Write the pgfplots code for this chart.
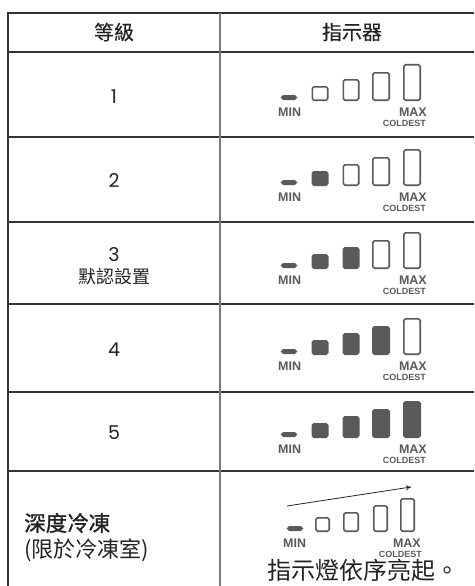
\documentclass[border=0pt]{standalone}
\usepackage{pgfplots}
\pgfplotsset{compat=1.18}
\usepackage{pgfplotstable}
\usetikzlibrary{arrows.meta}
\usepackage{fontspec}
\setmainfont{Poppins}
\newfontfamily\cjk{Noto Sans CJK TC}
\newfontfamily\cjkm{Noto Sans CJK TC}[FakeBold=0.3]
\newfontfamily\cjkb{Noto Sans CJK TC}[FakeBold=1.4]
\newfontfamily\labfont{Liberation Sans}
\definecolor{segc}{HTML}{5A5A5A}
\definecolor{txt}{HTML}{222222}
\definecolor{rule}{HTML}{333333}
\definecolor{vrule}{HTML}{7A7A7A}

% indicator segments: x centre, y bottom (px from top), height, width, filled
\pgfplotstableread{
x y h w f
289 100 5 16 1
320 101 15 17 0
351 101 22 17 0
381 101 29 18 0
412 101 37 18 0
289 185 5 16 1
320 186 15 17 1
351 186 22 17 0
381 186 29 18 0
412 186 37 18 0
289 268 5 16 1
320 269 15 17 1
351 269 22 17 1
381 269 29 18 0
412 269 37 18 0
289 354 5 16 1
320 355 15 17 1
351 355 22 17 1
381 355 29 18 1
412 355 37 18 0
289 437 5 16 1
320 438 15 17 1
351 438 22 17 1
381 438 29 18 1
412 438 37 18 1
295 531 5 16 1
322.5 532 15 15 0
351 532 20 16 0
380.5 532 27 15 0
407.5 532 34 15 0
}\segs

\newcommand{\indlabels}[4]{% bottom, MIN left x, MAX right x, COLDEST right x
  \node[anchor=base west, inner sep=0pt, text=segc, font=\labfont\bfseries\fontsize{12.5}{13}\selectfont] at (axis cs:#2,#1+15) {MIN};
  \node[anchor=base east, inner sep=0pt, text=segc, font=\labfont\bfseries\fontsize{12.5}{13}\selectfont] at (axis cs:#3,#1+15) {MAX};
  \node[anchor=base east, inner sep=0pt, text=segc, font=\labfont\bfseries\fontsize{9}{10}\selectfont] at (axis cs:#4,#1+25) {COLDEST};
}

\begin{document}
\begin{tikzpicture}
\begin{axis}[
  scale only axis, width=474pt, height=586pt,
  xmin=0, xmax=474, ymin=0, ymax=586, y dir=reverse,
  hide axis, clip=true,
]
\addplot[draw=none] coordinates {(0,0) (474,586)};
% table rules
\addplot[line width=2pt, color=rule] coordinates {(8,13) (474,13)};
\addplot[line width=2pt, color=rule] coordinates {(8.3,12) (8.3,586)};
\addplot[line width=1.5pt, color=rule] coordinates {(8,52) (474,52)};
\addplot[line width=1.5pt, color=rule] coordinates {(8,137) (474,137)};
\addplot[line width=1.5pt, color=rule] coordinates {(8,222) (474,222)};
\addplot[line width=1.5pt, color=rule] coordinates {(8,304) (474,304)};
\addplot[line width=1.5pt, color=rule] coordinates {(8,392) (474,392)};
\addplot[line width=1.5pt, color=rule] coordinates {(8,471) (474,471)};
\addplot[line width=1.7pt, color=vrule] coordinates {(220,13) (220,586)};

% indicator segments
\addplot[scatter, only marks, mark=*, mark size=0.1pt,
  mark options={draw opacity=0, fill opacity=0},
  visualization depends on={\thisrow{h}\as\segh},
  visualization depends on={\thisrow{w}\as\segw},
  visualization depends on={\thisrow{f}\as\segf},
  scatter/@pre marker code/.code={%
    \pgfmathsetmacro\seghw{\segw/2-0.8}%
    \pgfmathsetmacro\segtop{\segh-0.8}%
    \pgfmathsetmacro\segfl{\segf>0.5 ? 1 : 0}%
    \ifdim\segfl pt>0.5pt \def\segfill{segc}\else\def\segfill{white}\fi
    \draw[segc, draw opacity=1, fill opacity=1, line width=1.6pt, rounded corners=1.7pt, fill=\segfill]
      (-\seghw pt,0.8pt) rectangle (\seghw pt,\segtop pt);
  },
  scatter/@post marker code/.code={},
] table[x=x, y=y] {\segs};

% arrow in deep-freeze row
\addplot[line width=0.8pt, color=txt, -{To[length=5pt, width=5pt]}] coordinates {(287,506) (411,487)};

\indlabels{101}{278}{427}{426}
\indlabels{186}{278}{427}{426}
\indlabels{269}{278}{427}{426}
\indlabels{355}{278}{427}{426}
\indlabels{438}{278}{427}{426}
\indlabels{532}{283}{421}{422}

% texts
\node[text=txt, font=\cjkm\fontsize{20}{24}\selectfont] at (axis cs:114,32) {等級};
\node[text=txt, font=\cjkm\fontsize{20}{24}\selectfont] at (axis cs:352,32) {指示器};
\node[text=txt, font=\fontsize{19}{22}\selectfont] at (axis cs:114,97) {1};
\node[text=txt, font=\fontsize{19}{22}\selectfont] at (axis cs:114,181) {2};
\node[text=txt, font=\fontsize{19}{22}\selectfont] at (axis cs:114,255) {3};
\node[text=txt, font=\cjk\fontsize{18}{22}\selectfont] at (axis cs:114,277) {默認設置};
\node[text=txt, font=\fontsize{19}{22}\selectfont] at (axis cs:114,350) {4};
\node[text=txt, font=\fontsize{19}{22}\selectfont] at (axis cs:114,433) {5};
\node[anchor=west, inner sep=0pt, text=txt, font=\cjkb\fontsize{21.5}{24}\selectfont] at (axis cs:24,523) {深度冷凍};
\node[anchor=west, inner sep=0pt, text=txt, font=\cjk\fontsize{22}{24}\selectfont] at (axis cs:24,550) {(限於冷凍室)};
\node[text=txt, font=\cjk\fontsize{24}{26}\selectfont] at (axis cs:363,570) {指示燈依序亮起。};
\end{axis}
\end{tikzpicture}
\end{document}
